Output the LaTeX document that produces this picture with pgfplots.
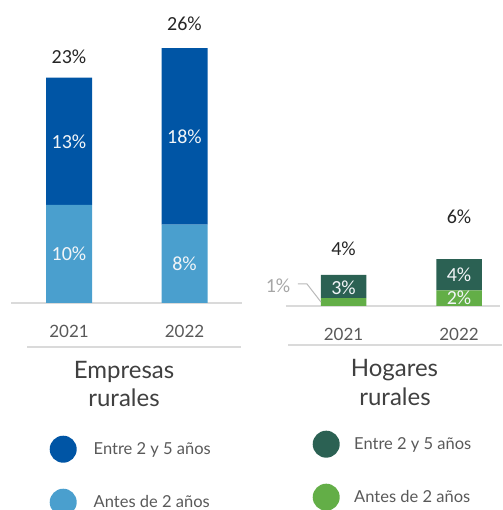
\documentclass[border=0pt]{standalone}
\usepackage{pgfplots}
\pgfplotsset{compat=1.18}
\usepackage{fontspec}
\setmainfont{Lato}
\newfontfamily\pctfont{Carlito}
\definecolor{dblue}{HTML}{0055A5}
\definecolor{lblue}{HTML}{4A9FCE}
\definecolor{dgreen}{HTML}{2B6153}
\definecolor{lgreen}{HTML}{63AE47}
\definecolor{txtgray}{HTML}{595959}
\definecolor{titlegray}{HTML}{404040}
\definecolor{linegray}{HTML}{DADADA}
\definecolor{pctblack}{HTML}{262626}
\definecolor{lbl}{HTML}{F2F5F8}
\pgfplotsset{
  commonstyle/.style={
    scale only axis, clip=false,
    ybar stacked,
    axis x line=bottom, hide y axis,
    x axis line style={-, draw=linegray, line width=1.3pt},
    xtick={0,1}, xticklabels={2021,2022},
    major tick length=0pt, xtick style={draw=none},
    xticklabel style={font=\fontsize{17}{20}\selectfont, text=txtgray, anchor=base},
    legend image code/.code={\fill[##1] (13.5pt,0pt) circle (13.5pt);},
    reverse legend,
    legend cell align=left,
  }
}
\tikzset{pct/.style={font=\pctfont\fontsize{20}{24}\selectfont}}
\begin{document}
\begin{tikzpicture}[x=1pt,y=1pt]
% ---------- Empresas rurales ----------
\begin{axis}[commonstyle, name=L,
  at={(11.25pt,207pt)}, anchor=south west,
  width=231pt, height=294pt,
  xmin=-0.5, xmax=1.5, ymin=0, ymax=30,
  bar width=46pt,
  xticklabel style={yshift=-35pt},
  legend style={at={(axis description cs:0.1656,-0.4507)}, anchor=north west,
    draw=none, fill=none, inner sep=0pt, row sep=26pt, column sep=17pt,
    nodes={inner sep=0pt}, font=\fontsize{16.5}{19}\selectfont, text=txtgray},
]
\addplot[fill=lblue, draw=none] coordinates {(0,10) (1,8)};
\addlegendentry{Antes de 2 años}
\addplot[fill=dblue, draw=none] coordinates {(0,13) (1,18)};
\addlegendentry{Entre 2 y 5 años}
\coordinate (L1) at (axis cs:0,5);
\coordinate (L2) at (axis cs:0,16.5);
\coordinate (L3) at (axis cs:1,4);
\coordinate (L4) at (axis cs:1,17);
\coordinate (L5) at (axis cs:0,25.1);
\coordinate (L6) at (axis cs:1,28.5);
\end{axis}
\node[pct, text=lbl] at (L1) {10\%};
\node[pct, text=lbl] at (L2) {13\%};
\node[pct, text=lbl] at (L3) {8\%};
\node[pct, text=lbl] at (L4) {18\%};
\node[pct, text=pctblack] at (L5) {23\%};
\node[pct, text=pctblack] at (L6) {26\%};
% ---------- Hogares rurales ----------
\begin{axis}[commonstyle, name=R,
  at={(285.75pt,204pt)}, anchor=south west,
  width=214.25pt, height=156pt,
  xmin=-0.5, xmax=1.355, ymin=0, ymax=20,
  bar width=45.5pt,
  xticklabel style={yshift=-35pt},
  legend style={at={(axis description cs:0.1249,-0.798)}, anchor=north west,
    draw=none, fill=none, inner sep=0pt, row sep=26pt, column sep=14.5pt,
    nodes={inner sep=0pt}, font=\fontsize{16.5}{19}\selectfont, text=txtgray},
]
\addplot[fill=lgreen, draw=none] coordinates {(0,1) (1,2)};
\addlegendentry{Antes de 2 años}
\addplot[fill=dgreen, draw=none] coordinates {(0,3) (1,4)};
\addlegendentry{Entre 2 y 5 años}
\coordinate (R1) at (axis cs:0,2.3);
\coordinate (R2) at (axis cs:1,4);
\coordinate (R3) at (axis cs:1,1);
\coordinate (R4) at (axis cs:0,7.3);
\coordinate (R5) at (axis cs:1,11.5);
\coordinate (R6) at (axis cs:-0.567,2.56);
\coordinate (P1) at (axis cs:-0.394,2.82);
\coordinate (P2) at (axis cs:-0.316,2.82);
\coordinate (P3) at (axis cs:-0.195,0.51);
\end{axis}
\node[pct, text=lbl] at (R1) {3\%};
\node[pct, text=lbl] at (R2) {4\%};
\node[pct, text=lbl] at (R3) {2\%};
\node[pct, text=pctblack] at (R4) {4\%};
\node[pct, text=pctblack] at (R5) {6\%};
\node[pct, text=gray!70] at (R6) {1\%};
\draw[gray!55, line width=1pt] (P1) -- (P2) -- (P3);
% rules under year labels
\draw[linegray, line width=1.3pt] (27,163) -- (241,163);
\draw[linegray, line width=1.3pt] (288,165) -- (502,165);
% titles
\node[font=\fontsize{24}{28}\selectfont, text=titlegray] at (124,138) {Empresas};
\node[font=\fontsize{24}{28}\selectfont, text=titlegray] at (124,112) {rurales};
\node[font=\fontsize{24}{28}\selectfont, text=titlegray] at (394.5,140) {Hogares};
\node[font=\fontsize{24}{28}\selectfont, text=titlegray] at (395,113) {rurales};
\pgfresetboundingbox
\useasboundingbox (0,0) rectangle (502,510);
\end{tikzpicture}
\end{document}
